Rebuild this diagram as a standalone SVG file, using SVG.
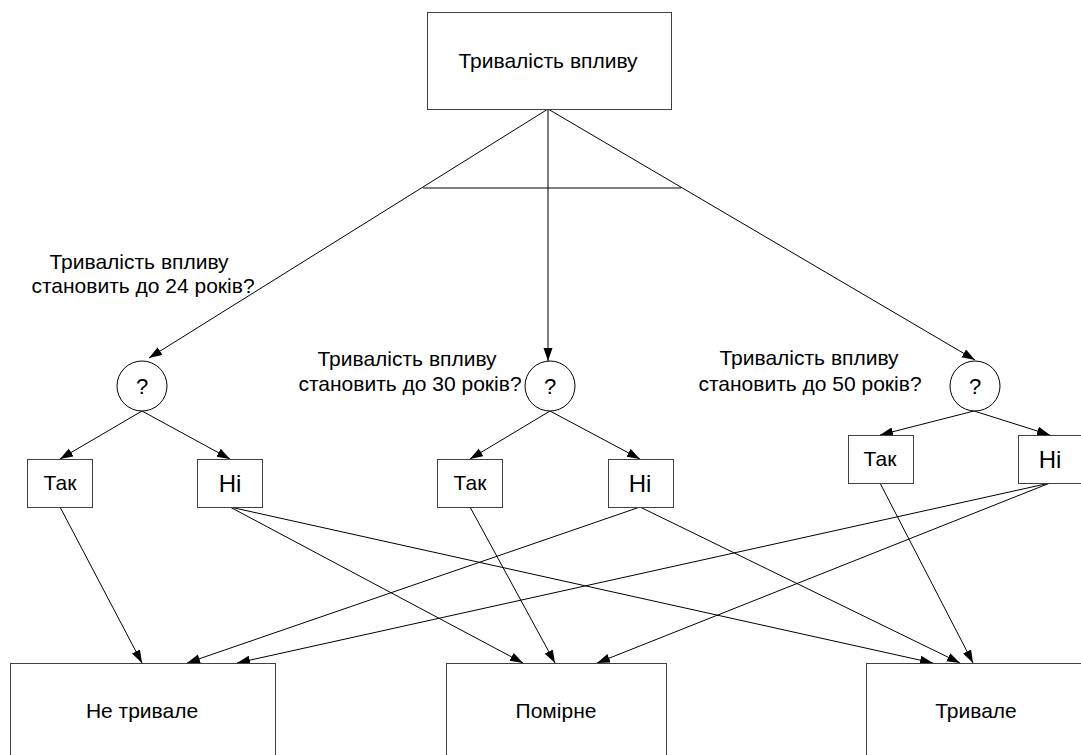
<svg xmlns="http://www.w3.org/2000/svg" width="1081" height="755" viewBox="0 0 1081 755">
  <style>
    .box { fill: #ffffff; stroke: #404040; stroke-width: 1; }
    .node-circle { fill: #ffffff; stroke: #000000; stroke-width: 1; }
    .edge { stroke: #000000; stroke-width: 1; fill: none; }
    .arrow { stroke: #000000; stroke-width: 1; fill: none; marker-end: url(#head); }
    text { font-family: "Liberation Sans", Arial, sans-serif; fill: #000000; }
    .t-main { font-size: 21px; text-anchor: middle; }
    .t-q { font-size: 22px; text-anchor: middle; }
    .t-yes { font-size: 21px; text-anchor: middle; }
    .t-no { font-size: 24px; text-anchor: middle; }
    .t-label { font-size: 21px; text-anchor: middle; }
  </style>
  <defs>
    <marker id="head" markerUnits="userSpaceOnUse" markerWidth="14" markerHeight="10" refX="13" refY="4.5" orient="auto">
      <path d="M0,0 L13,4.5 L0,9 z" fill="#000000"/>
    </marker>
  </defs>
  <rect width="1081" height="755" fill="#ffffff"/>

  <!-- connectors -->
  <g id="connectors">
    <!-- root split -->
    <line class="edge" x1="423" y1="188" x2="681" y2="188"/>
    <line class="arrow" x1="548" y1="109" x2="149" y2="358"/>
    <line class="arrow" x1="548" y1="109" x2="548" y2="361"/>
    <line class="arrow" x1="548" y1="109" x2="975" y2="360"/>
    <!-- question branches -->
    <line class="arrow" x1="142" y1="411" x2="60" y2="459"/>
    <line class="arrow" x1="142" y1="411" x2="230" y2="459"/>
    <line class="arrow" x1="550" y1="411" x2="470" y2="459"/>
    <line class="arrow" x1="550" y1="411" x2="640" y2="459"/>
    <line class="arrow" x1="974" y1="411" x2="880" y2="435"/>
    <line class="arrow" x1="974" y1="411" x2="1050" y2="435"/>
    <!-- answers to outcomes -->
    <line class="arrow" x1="60" y1="507" x2="142" y2="663"/>
    <line class="arrow" x1="230" y1="507" x2="523" y2="663"/>
    <line class="arrow" x1="230" y1="507" x2="933" y2="663"/>
    <line class="arrow" x1="470" y1="507" x2="555" y2="663"/>
    <line class="arrow" x1="640" y1="507" x2="187" y2="663"/>
    <line class="arrow" x1="640" y1="507" x2="960" y2="663"/>
    <line class="arrow" x1="880" y1="483" x2="973" y2="663"/>
    <line class="arrow" x1="1050" y1="483" x2="237" y2="663"/>
    <line class="arrow" x1="1050" y1="483" x2="597" y2="663"/>
  </g>

  <g id="root">
    <rect class="box" x="427.5" y="12.5" width="244" height="97"/>
    <text class="t-main" x="548" y="68">Тривалість впливу</text>
  </g>

  <g id="q24">
    <circle class="node-circle" cx="142" cy="386" r="25"/>
    <text class="t-q" x="142" y="394">?</text>
    <text class="t-label" x="139" y="269">Тривалість впливу</text>
    <text class="t-label" x="143" y="293">становить до 24 років?</text>
  </g>

  <g id="q30">
    <circle class="node-circle" cx="550" cy="386" r="25"/>
    <text class="t-q" x="550" y="394">?</text>
    <text class="t-label" x="407" y="366">Тривалість впливу</text>
    <text class="t-label" x="410" y="391">становить до 30 років?</text>
  </g>

  <g id="q50">
    <circle class="node-circle" cx="975" cy="386" r="25"/>
    <text class="t-q" x="975" y="394">?</text>
    <text class="t-label" x="809" y="365">Тривалість впливу</text>
    <text class="t-label" x="810" y="391">становить до 50 років?</text>
  </g>

  <g id="yes24">
    <rect class="box" x="27.5" y="459.5" width="65" height="48"/>
    <text class="t-yes" x="60" y="490">Так</text>
  </g>
  <g id="no24">
    <rect class="box" x="197.5" y="459.5" width="65" height="48"/>
    <text class="t-no" x="230" y="492">Ні</text>
  </g>
  <g id="yes30">
    <rect class="box" x="437.5" y="459.5" width="65" height="48"/>
    <text class="t-yes" x="470" y="490">Так</text>
  </g>
  <g id="no30">
    <rect class="box" x="608.5" y="459.5" width="65" height="48"/>
    <text class="t-no" x="640" y="492">Ні</text>
  </g>
  <g id="yes50">
    <rect class="box" x="848.5" y="435.5" width="65" height="48"/>
    <text class="t-yes" x="880" y="466">Так</text>
  </g>
  <g id="no50">
    <rect class="box" x="1018.5" y="435.5" width="65" height="48"/>
    <text class="t-no" x="1050" y="468">Ні</text>
  </g>

  <g id="short">
    <rect class="box" x="10.5" y="663.5" width="265" height="100"/>
    <text class="t-main" x="142" y="718">Не тривале</text>
  </g>
  <g id="moderate">
    <rect class="box" x="446.5" y="663.5" width="220" height="100"/>
    <text class="t-main" x="556" y="718">Помірне</text>
  </g>
  <g id="long">
    <rect class="box" x="866.5" y="663.5" width="220" height="100"/>
    <text class="t-main" x="976" y="718">Тривале</text>
  </g>
</svg>
